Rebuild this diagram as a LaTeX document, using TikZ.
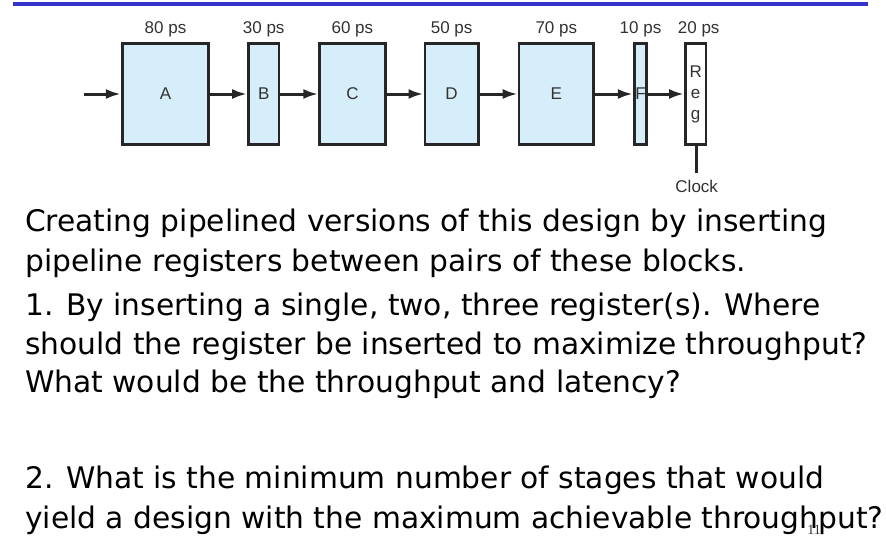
\documentclass[tikz,border=0pt]{standalone}
\usepackage{fontspec}
\setmainfont{DejaVu Sans}
\newfontfamily\figfont{Liberation Sans}
\newfontfamily\numfont{Liberation Serif}
\usepackage{tikz}
\usetikzlibrary{positioning, arrows.meta}
\definecolor{BarBlue}{RGB}{51,51,204}
\definecolor{BoxBlue}{RGB}{213,238,250}
\definecolor{InkGray}{RGB}{50,50,50}

\tikzset{
  blk/.style={draw=black!85, line width=2.7pt, fill=BoxBlue, minimum height=101.5pt,
    inner sep=0pt, font=\figfont\fontsize{17}{21}\selectfont, text=InkGray},
  lbl/.style={inner sep=0pt, font=\figfont\fontsize{17}{20}\selectfont, text=InkGray},
  flow/.style={line width=3pt, draw=black!85, -{Latex[length=15pt,width=10pt]}},
  qline/.style={inner sep=0pt, anchor=base west, font=\fontsize{29.7}{39}\selectfont}
}

\begin{document}
\begin{tikzpicture}[x=1pt, y=-1pt, node distance=37.5pt]
        \useasboundingbox (0,0) rectangle (886,557);
        % Title bar
        \draw[BarBlue, line width=3.4pt] (13,4) -- (868,4);
        % Combinational blocks and the register
        \node[blk, minimum width=86.5pt] (A) at (165.5,94) {A};
        \node[blk, minimum width=30.5pt, right=37pt of A] (B) {B};
        \node[blk, minimum width=65.5pt, right=38pt of B] (C) {C};
        \node[blk, minimum width=53.5pt, right=37pt of C] (D) {D};
        \node[blk, minimum width=74.5pt, right=38pt of D] (E) {E};
        \node[blk, minimum width=12.5pt, right=38pt of E] (F) {F};
        \node[blk, minimum width=20.5pt, right=36pt of F, fill=white, align=center] (reg) {R\\e\\g};
        % Delays
        \node[lbl, above=5pt of A] (tA) {80 ps};
        \node[lbl, above=5pt of B] (tB) {30 ps};
        \node[lbl, above=5pt of C] (tC) {60 ps};
        \node[lbl, above=5pt of D] (tD) {50 ps};
        \node[lbl, above=5pt of E] (tE) {70 ps};
        \node[lbl, above=5pt of F] (tF) {10 ps};
        \node[lbl, above=5pt of reg, xshift=3pt] (tR) {20 ps};
        % Data path
        \coordinate[left=37pt of A] (in);
        \draw[flow] (in) -- (A);
        \draw[flow] (A) -- (B);
        \draw[flow] (B) -- (C);
        \draw[flow] (C) -- (D);
        \draw[flow] (D) -- (E);
        \draw[flow] (E) -- (F);
        \draw[flow] (F) -- (reg);
        % Clock input
        \coordinate[below=27pt of reg, xshift=1pt] (clk);
        \draw[line width=3pt, black!85] (reg.south -| clk) -- (clk);
        \node[lbl, below=6.7pt of clk] (clock) {Clock};
        % Questions
        \node[qline] (l1) at (25,231.5) {Creating pipelined versions of this design by inserting};
        \node[qline] (l2) at (25,271.5) {pipeline registers between pairs of these blocks.};
        \node[qline] (l3) at (25,315.5) {1. By inserting a single, two, three register(s). Where};
        \node[qline] (l4) at (25,354.5) {should the register be inserted to maximize throughput?};
        \node[qline] (l5) at (25,392.5) {What would be the throughput and latency?};
        \node[qline] (l6) at (25,488.5) {2. What is the minimum number of stages that would};
        \node[qline] (l7) at (25,528.5) {yield a design with the maximum achievable throughput?};
        % Slide number
        \node[inner sep=0pt, font=\numfont\fontsize{14}{16}\selectfont, text=InkGray] (num) at (814,530) {11};
\end{tikzpicture}
\end{document}
